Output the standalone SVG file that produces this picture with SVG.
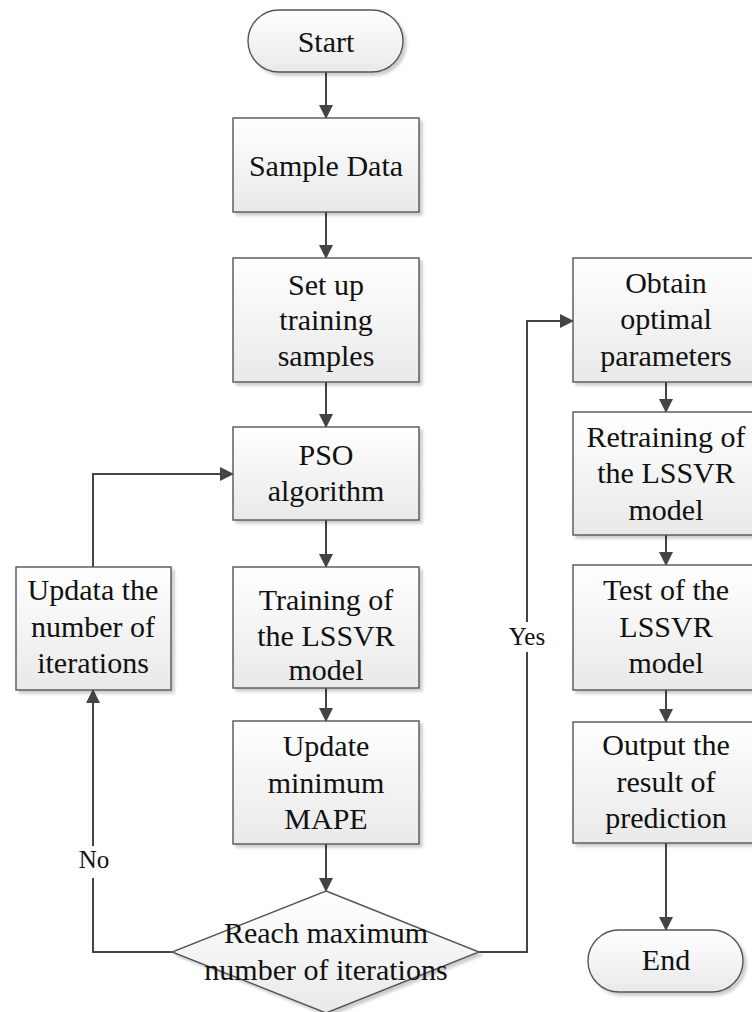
<svg xmlns="http://www.w3.org/2000/svg" width="752" height="1012" viewBox="0 0 752 1012">
<defs>
<linearGradient id="g" x1="0" y1="0" x2="0" y2="1">
<stop offset="0" stop-color="#ffffff"/>
<stop offset="1" stop-color="#e9e9e9"/>
</linearGradient>
<filter id="sh" x="-10%" y="-10%" width="130%" height="130%">
<feGaussianBlur in="SourceAlpha" stdDeviation="1.5"/>
<feOffset dx="3" dy="3" result="o"/>
<feComponentTransfer><feFuncA type="linear" slope="0.2"/></feComponentTransfer>
<feMerge><feMergeNode/><feMergeNode in="SourceGraphic"/></feMerge>
</filter>
<marker id="ah" markerWidth="14" markerHeight="14" viewBox="0 0 14 14" refX="13" refY="7" orient="auto" markerUnits="userSpaceOnUse">
<path d="M0,0 L14,7 L0,14 z" fill="#444"/>
</marker>
</defs>
<style>
.n{fill:url(#g);stroke:#555;stroke-width:1.4;filter:url(#sh)}
.t{font-family:"Liberation Serif","Times New Roman",serif;font-size:30px;fill:#111;text-anchor:middle}
.l{font-family:"Liberation Serif","Times New Roman",serif;font-size:25px;fill:#111;text-anchor:middle}
.c{fill:none;stroke:#444;stroke-width:2}
</style>
<rect width="752" height="1012" fill="#fff"/>
<g id="connectors">
<path class="c" d="M326,72 V118" marker-end="url(#ah)"/>
<path class="c" d="M326,212 V258" marker-end="url(#ah)"/>
<path class="c" d="M326,382 V427" marker-end="url(#ah)"/>
<path class="c" d="M326,520 V567" marker-end="url(#ah)"/>
<path class="c" d="M326,688 V721" marker-end="url(#ah)"/>
<path class="c" d="M326,844 V891" marker-end="url(#ah)"/>
<path class="c" d="M172,952 H93 V878"/>
<path class="c" d="M93,846 V690" marker-end="url(#ah)"/>
<path class="c" d="M93,567 V474 H233" marker-end="url(#ah)"/>
<path class="c" d="M479,952 H527 V652"/>
<path class="c" d="M527,622 V321 H573" marker-end="url(#ah)"/>
<path class="c" d="M666,382 V412" marker-end="url(#ah)"/>
<path class="c" d="M666,535 V565" marker-end="url(#ah)"/>
<path class="c" d="M666,690 V722" marker-end="url(#ah)"/>
<path class="c" d="M666,843 V930" marker-end="url(#ah)"/>
<text class="l" x="94" y="868">No</text>
<text class="l" x="527" y="645">Yes</text>
</g>
<g id="start"><rect class="n" x="248" y="10" width="155" height="62" rx="31"/><text class="t" x="326" y="52">Start</text></g>
<g id="sample"><rect class="n" x="233" y="118" width="186" height="94"/><text class="t" x="326" y="176">Sample Data</text></g>
<g id="setup"><rect class="n" x="233" y="258" width="186" height="124"/><text class="t" x="326" y="295">Set up</text><text class="t" x="326" y="330">training</text><text class="t" x="326" y="366">samples</text></g>
<g id="pso"><rect class="n" x="233" y="427" width="186" height="93"/><text class="t" x="326" y="465">PSO</text><text class="t" x="326" y="501">algorithm</text></g>
<g id="training"><rect class="n" x="233" y="567" width="186" height="121"/><text class="t" x="326" y="610">Training of</text><text class="t" x="326" y="646">the LSSVR</text><text class="t" x="326" y="680">model</text></g>
<g id="mape"><rect class="n" x="233" y="721" width="186" height="123"/><text class="t" x="326" y="756">Update</text><text class="t" x="326" y="793">minimum</text><text class="t" x="326" y="829">MAPE</text></g>
<g id="decision"><polygon class="n" points="326,891 479,952 326,1013 172,952"/><text class="t" x="326" y="943">Reach maximum</text><text class="t" x="326" y="980">number of iterations</text></g>
<g id="updata"><rect class="n" x="16" y="567" width="155" height="123"/><text class="t" x="93" y="600">Updata the</text><text class="t" x="93" y="637">number of</text><text class="t" x="93" y="673">iterations</text></g>
<g id="obtain"><rect class="n" x="573" y="258" width="186" height="124"/><text class="t" x="666" y="293">Obtain</text><text class="t" x="666" y="329">optimal</text><text class="t" x="666" y="366">parameters</text></g>
<g id="retrain"><rect class="n" x="573" y="412" width="186" height="123"/><text class="t" x="666" y="447">Retraining of</text><text class="t" x="666" y="483">the LSSVR</text><text class="t" x="666" y="520">model</text></g>
<g id="test"><rect class="n" x="573" y="565" width="186" height="125"/><text class="t" x="666" y="600">Test of the</text><text class="t" x="666" y="637">LSSVR</text><text class="t" x="666" y="673">model</text></g>
<g id="output"><rect class="n" x="573" y="722" width="186" height="121"/><text class="t" x="666" y="755">Output the</text><text class="t" x="666" y="792">result of</text><text class="t" x="666" y="828">prediction</text></g>
<g id="end"><rect class="n" x="588" y="930" width="155" height="62" rx="31"/><text class="t" x="666" y="970">End</text></g>
</svg>
